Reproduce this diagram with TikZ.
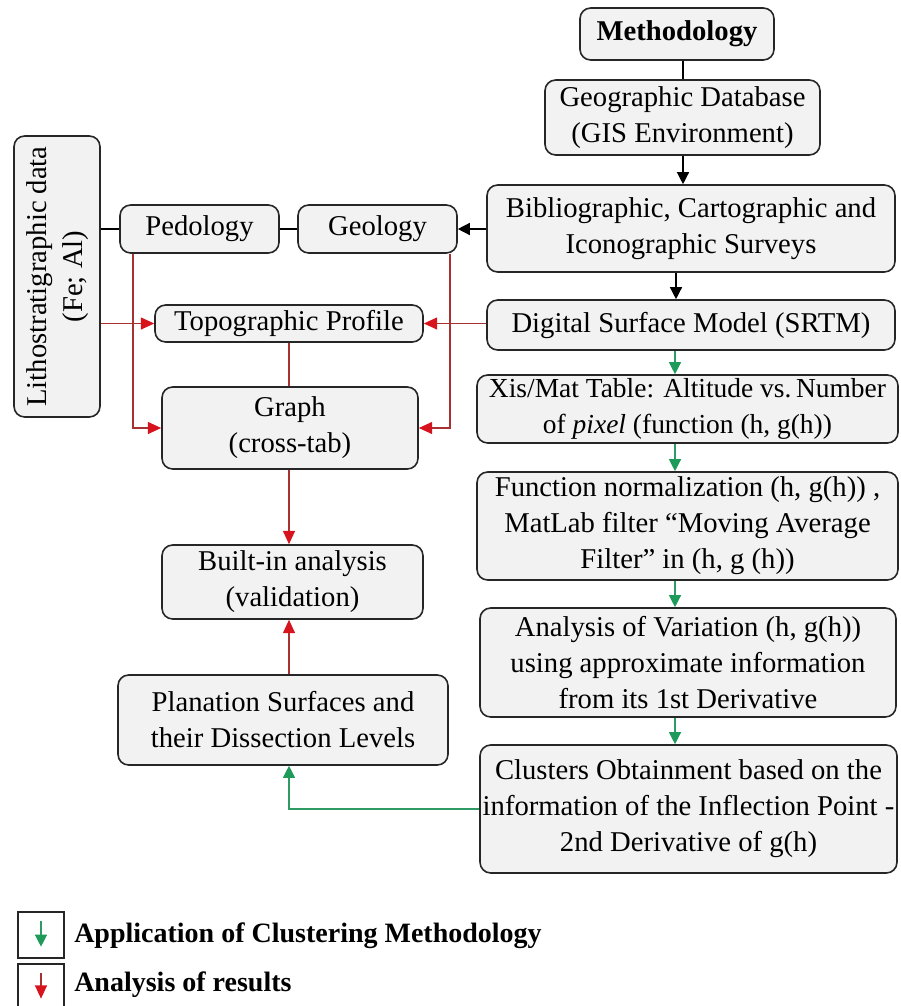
\documentclass[tikz,border=0pt]{standalone}
\usepackage{fontspec}
\setmainfont{Liberation Serif}
\usetikzlibrary{arrows.meta,calc}
\definecolor{boxgray}{HTML}{F2F2F2}
\definecolor{redline}{HTML}{A83232}
\definecolor{arrred}{HTML}{D7141E}
\definecolor{grnline}{HTML}{2E9B64}
\definecolor{arrgrn}{HTML}{1E9A5A}
\tikzset{
  box/.style={draw=black!85, line width=1.2pt, rounded corners=8pt, fill=boxgray,
    align=center, inner sep=2pt, font=\fontsize{21.5}{27}\selectfont},
  blkline/.style={draw=black, line width=1pt},
  blkarr/.style={blkline, -{Triangle[length=9pt,width=9pt]}},
  redl/.style={draw=redline, line width=0.9pt},
  redarr/.style={redl, -{Triangle[length=10pt,width=9pt,color=arrred]}},
  grnl/.style={draw=grnline, line width=0.9pt},
  grnarr/.style={grnl, -{Triangle[length=9pt,width=9pt,color=arrgrn]}},
  legbox/.style={draw=black!85, line width=1pt, inner sep=0pt},
  legtext/.style={anchor=west, inner sep=0pt, font=\fontsize{21}{25}\selectfont\bfseries}
}
\begin{document}
\begin{tikzpicture}[x=0.75pt,y=-0.75pt]
\useasboundingbox (0,0) rectangle (900,1006);
% right column
\node[box, minimum width=145.5pt, minimum height=39pt] (meth) at (677,34) {\textbf{Methodology}};
\node[box, minimum width=206.25pt, minimum height=56.25pt] (geodb) at (682.5,117.5) {Geographic Database\\(GIS Environment)};
\node[box, minimum width=306pt, minimum height=65.25pt] (biblio) at (691,228.5) {Bibliographic, Cartographic and\\Iconographic Surveys};
\node[box, minimum width=306pt, minimum height=37.5pt] (dsm) at (691,325) {Digital Surface Model (SRTM)};
\node[box, minimum width=315.75pt, minimum height=51pt, font=\fontsize{20.6}{27}\selectfont] (xis) at (687.5,409) {Xis/Mat Table: Altitude vs.\,Number\\of \textit{pixel} (function (h, g(h))};
\node[box, minimum width=315.75pt, minimum height=81pt] (func) at (687.5,526) {Function normalization (h, g(h))\hbox{ ,}\\MatLab filter “Moving Average\\Filter” in (h, g (h))};
\node[box, minimum width=312pt, minimum height=81.75pt] (anal) at (688,662.5) {Analysis of Variation (h, g(h))\\using approximate information\\from its 1st Derivative};
\node[box, minimum width=309.75pt, minimum height=96pt] (clus) at (688.5,809) {Clusters Obtainment based on the\\information of the Inflection Point\hbox{ -}\\2nd Derivative of g(h)};
% left side
\node[box, minimum width=64.5pt, minimum height=210.75pt] (litho) at (57,276.5) {\rotatebox{90}{\begin{tabular}{@{}c@{}}Lithostratigraphic data\\(Fe; Al)\end{tabular}}};
\node[box, minimum width=119.25pt, minimum height=36pt] (ped) at (199.5,229) {Pedology};
\node[box, minimum width=119.25pt, minimum height=36pt] (geo) at (377.5,229) {Geology};
\node[box, minimum width=201pt, minimum height=27.75pt, inner sep=1pt] (topo) at (289,323.5) {Topographic Profile};
\node[box, minimum width=192pt, minimum height=61.5pt] (graph) at (290,428) {Graph\\(cross-tab)};
\node[box, minimum width=195.75pt, minimum height=55.5pt] (built) at (292.5,582) {Built-in analysis\\(validation)};
\node[box, minimum width=247.5pt, minimum height=67.5pt] (plan) at (283,720) {Planation Surfaces and\\their Dissection Levels};
% helper coordinates
\coordinate (x683) at (683,0);
\coordinate (x676) at (676,0);
\coordinate (x675) at (675,0);
\coordinate (x133) at (133,0);
\coordinate (x450) at (450,0);
\coordinate (x289) at (289,0);
% black connectors
\draw[blkline] (meth.south -| x683) -- (geodb.north -| x683);
\draw[blkarr] (geodb.south -| x683) -- (biblio.north -| x683);
\draw[blkarr] (biblio.south -| x676) -- (dsm.north -| x676);
\draw[blkarr] (biblio.west |- geo.east) -- (geo.east);
\draw[blkline] (geo.west) -- (ped.east);
\draw[blkline] (ped.west) -- (litho.east |- ped.west);
% green connectors
\draw[grnarr] (dsm.south -| x675) -- (xis.north -| x675);
\draw[grnarr] (xis.south -| x675) -- (func.north -| x675);
\draw[grnarr] (func.south -| x675) -- (anal.north -| x675);
\draw[grnarr] (anal.south -| x675) -- (clus.north -| x675);
\draw[grnarr] (clus.west) -- (x289 |- clus.west) -- (x289 |- plan.south);
% red connectors
\draw[redarr] (litho.east |- topo.west) -- (topo.west);
\draw[redarr] (dsm.west |- topo.east) -- (topo.east);
\draw[redl] (topo.south -| x289) -- (graph.north -| x289);
\draw[redarr] (ped.south -| x133) -- (x133 |- graph.west) -- (graph.west);
\draw[redarr] (geo.south -| x450) -- (x450 |- graph.east) -- (graph.east);
\draw[redarr] (graph.south -| x289) -- (built.north -| x289);
\draw[redarr] (plan.north -| x289) -- (built.south -| x289);
% legend
\node[legbox, minimum width=34.5pt, minimum height=34.5pt] (leg1) at (41,935) {};
\node[legbox, minimum width=34.5pt, minimum height=34.5pt] (leg2) at (41,987) {};
\draw[grnl, line width=1pt, -{Triangle[length=9pt,width=9pt,color=arrgrn]}] ($(leg1.north)+(0,10)$) -- ($(leg1.south)+(0,-12)$);
\draw[redl, line width=1pt, -{Triangle[length=10pt,width=9pt,color=arrred]}] ($(leg2.north)+(0,10)$) -- ($(leg2.south)+(0,-12)$);
\node[legtext] (lt1) at (74,936) {Application of Clustering Methodology};
\node[legtext] (lt2) at (74,985) {Analysis of results};
\end{tikzpicture}
\end{document}
